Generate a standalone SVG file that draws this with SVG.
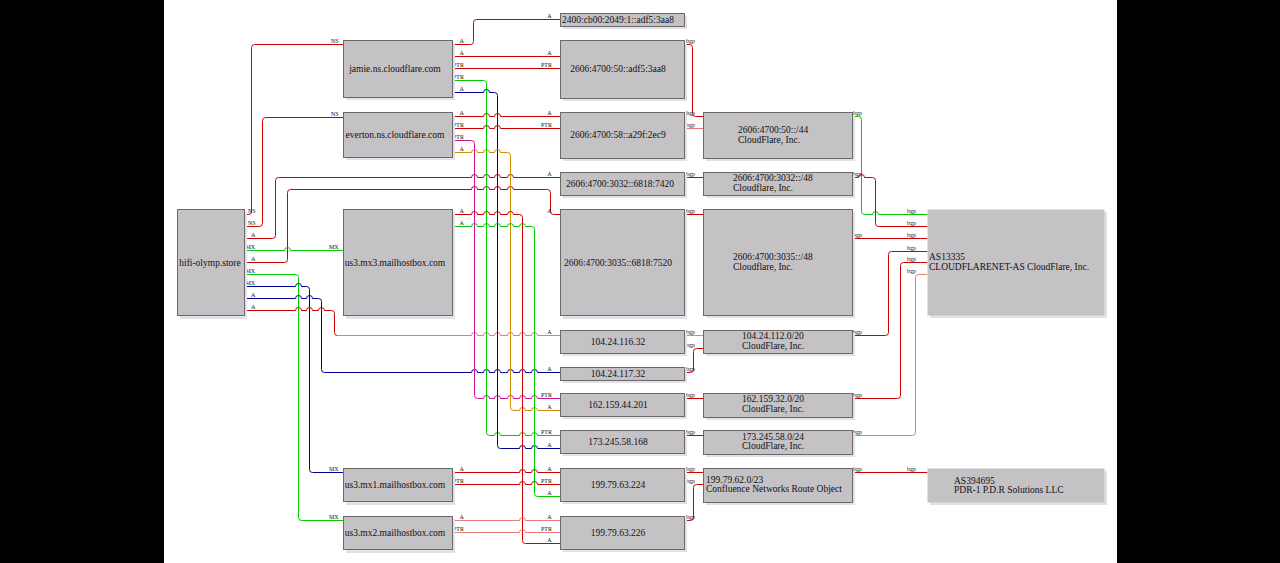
<svg xmlns="http://www.w3.org/2000/svg" width="1280" height="563" viewBox="0 0 1280 563">
<style>
.sh{fill:#e3e0e6}
.box{fill:#c4c2c5;stroke:#6a6a6a;stroke-width:1}
.t{font-family:'Liberation Serif','DejaVu Serif',serif;font-size:9.5px;fill:#111}
.l{font-family:'Liberation Serif','DejaVu Serif',serif;font-size:6px;fill:#111}
.e{fill:none;stroke-width:1}
.r{stroke:#cc0000}.lr{stroke:#e87a7a}.g{stroke:#00c800}.b{stroke:#000099}.m{stroke:#cc1199}.o{stroke:#d48c00}
</style>
<rect width="1280" height="563" fill="#000"/>
<rect x="164" y="0" width="953" height="563" fill="#fff"/>

<g id="connectors" transform="translate(0.5,0.5)">
<path class="e r" d="M244,214 H248 Q251,214 251,211 V47 Q251,44 254,44 H343"/>
<path class="e r" d="M244,226 H259 Q262,226 262,223 V120 Q262,117 265,117 H343"/>
<path class="e r" d="M244,238 H272 Q275,238 275,235 V180 Q275,177 278,177 H471 a3,3 0 0 1 6,0 H483 a3,3 0 0 1 6,0 H494 a3,3 0 0 1 6,0 H507 a3,3 0 0 1 6,0 H560"/>
<path class="e r" d="M244,262 H284 Q287,262 287,259 V192 Q287,189 290,189 H471 a3,3 0 0 1 6,0 H483 a3,3 0 0 1 6,0 H494 a3,3 0 0 1 6,0 H507 a3,3 0 0 1 6,0 H547 Q550,189 550,192 V211 Q550,214 553,214 H560"/>
<path class="e g" d="M244,250 H284 a3,3 0 0 1 6,0 H343"/>
<path class="e g" d="M244,274 H295 Q298,274 298,277 V517 Q298,520 301,520 H343"/>
<path class="e b" d="M244,286 H295 a3,3 0 0 1 6,0 H306 Q309,286 309,289 V469 Q309,472 312,472 H343"/>
<path class="e b" d="M244,298 H295 a3,3 0 0 1 6,0 H306 a3,3 0 0 1 6,0 H318 Q321,298 321,301 V369 Q321,372 324,372 H471 a3,3 0 0 1 6,0 H483 a3,3 0 0 1 6,0 H494 a3,3 0 0 1 6,0 H507 a3,3 0 0 1 6,0 H519 a3,3 0 0 1 6,0 H531 a3,3 0 0 1 6,0 H560"/>
<path class="e r" d="M244,310 H295 a3,3 0 0 1 6,0 H306 a3,3 0 0 1 6,0 H318 a3,3 0 0 1 6,0 H331 Q334,310 334,313 V332 Q334,335 337,335"/>
<path class="e lr" d="M337,335 H471 a3,3 0 0 1 6,0 H483 a3,3 0 0 1 6,0 H494 a3,3 0 0 1 6,0 H507 a3,3 0 0 1 6,0 H519 a3,3 0 0 1 6,0 H531 a3,3 0 0 1 6,0 H560"/>
<path class="e r" d="M452,44 H470 Q473,44 473,41 V22 Q473,19 476,19 H560"/>
<path class="e r" d="M452,56 H560"/>
<path class="e r" d="M452,68 H560"/>
<path class="e g" d="M452,80 H483 Q486,80 486,83 V432 Q486,435 489,435 H494 a3,3 0 0 1 6,0 H519 a3,3 0 0 1 6,0 H531 a3,3 0 0 1 6,0 H560"/>
<path class="e b" d="M452,92 H483 a3,3 0 0 1 6,0 H494 Q497,92 497,95 V445 Q497,448 500,448 H519 a3,3 0 0 1 6,0 H531 a3,3 0 0 1 6,0 H560"/>
<path class="e r" d="M452,116 H483 a3,3 0 0 1 6,0 H494 a3,3 0 0 1 6,0 H560"/>
<path class="e r" d="M452,128 H483 a3,3 0 0 1 6,0 H494 a3,3 0 0 1 6,0 H560"/>
<path class="e m" d="M452,140 H471 Q474,140 474,143 V395 Q474,398 477,398 H483 a3,3 0 0 1 6,0 H494 a3,3 0 0 1 6,0 H507 a3,3 0 0 1 6,0 H519 a3,3 0 0 1 6,0 H531 a3,3 0 0 1 6,0 H560"/>
<path class="e o" d="M452,152 H471 a3,3 0 0 1 6,0 H483 a3,3 0 0 1 6,0 H494 a3,3 0 0 1 6,0 H507 Q510,152 510,155 V407 Q510,410 513,410 H519 a3,3 0 0 1 6,0 H531 a3,3 0 0 1 6,0 H560"/>
<path class="e r" d="M452,214 H471 a3,3 0 0 1 6,0 H483 a3,3 0 0 1 6,0 H494 a3,3 0 0 1 6,0 H507 a3,3 0 0 1 6,0 H519 Q522,214 522,217 V540 Q522,543 525,543 H560"/>
<path class="e g" d="M452,226 H471 a3,3 0 0 1 6,0 H483 a3,3 0 0 1 6,0 H494 a3,3 0 0 1 6,0 H507 a3,3 0 0 1 6,0 H519 a3,3 0 0 1 6,0 H531 Q534,226 534,229 V493 Q534,496 537,496 H560"/>
<path class="e r" d="M452,472 H519 a3,3 0 0 1 6,0 H531 a3,3 0 0 1 6,0 H560"/>
<path class="e r" d="M452,484 H519 a3,3 0 0 1 6,0 H531 a3,3 0 0 1 6,0 H560"/>
<path class="e lr" d="M452,520 H519 a3,3 0 0 1 6,0 H560"/>
<path class="e lr" d="M452,532 H519 a3,3 0 0 1 6,0 H560"/>
<path class="e r" d="M684,44 H689 Q692,44 692,47 V113 Q692,116 695,116 H703"/>
<path class="e lr" d="M684,128 H703"/>
<path class="e r" d="M684,177 H703"/>
<path class="e r" d="M684,214 H703"/>
<path class="e lr" d="M684,335 H703"/>
<path class="e r" d="M684,372 H690 Q693,372 693,369 V351 Q693,348 696,348 H703"/>
<path class="e r" d="M684,398 H703"/>
<path class="e r" d="M684,435 H703"/>
<path class="e r" d="M684,472 H703"/>
<path class="e r" d="M684,520 H690 Q693,520 693,517 V487 Q693,484 696,484 H703"/>
<path class="e g" d="M852,116 H858 Q861,116 861,119 V211 Q861,214 864,214 H872 a3,3 0 0 1 6,0 H927"/>
<path class="e r" d="M852,177 H858 a3,3 0 0 1 6,0 H872 Q875,177 875,180 V223 Q875,226 878,226 H927"/>
<path class="e r" d="M852,238 H927"/>
<path class="e r" d="M852,335 H885 Q888,335 888,332 V254 Q888,251 891,251 H927"/>
<path class="e r" d="M852,398 H897 Q900,398 900,395 V265 Q900,262 903,262 H927"/>
<path class="e lr" d="M852,435 H912 Q915,435 915,432 V277 Q915,274 918,274 H927"/>
<path class="e r" d="M852,472 H927"/>
</g>

<g id="edge-labels" font-family="'Liberation Serif', serif">
<text class="l" x="248" y="212.5">NS</text>
<text class="l" x="248" y="224.5">NS</text>
<text class="l" x="251" y="236.5">A</text>
<text class="l" x="245.5" y="248.5">MX</text>
<text class="l" x="251" y="260.5">A</text>
<text class="l" x="245.5" y="272.5">MX</text>
<text class="l" x="245.5" y="284.5">MX</text>
<text class="l" x="251" y="296.5">A</text>
<text class="l" x="251" y="308.5">A</text>
<text class="l" x="331" y="42.5">NS</text>
<text class="l" x="331" y="115.5">NS</text>
<text class="l" x="329" y="248.5">MX</text>
<text class="l" x="329" y="470.5">MX</text>
<text class="l" x="329" y="518.5">MX</text>
<text class="l" x="459.5" y="42.5">A</text>
<text class="l" x="459.5" y="54.5">A</text>
<text class="l" x="453" y="66.5">PTR</text>
<text class="l" x="453" y="78.5">PTR</text>
<text class="l" x="459.5" y="90.5">A</text>
<text class="l" x="459.5" y="114.5">A</text>
<text class="l" x="453" y="126.5">PTR</text>
<text class="l" x="453" y="138.5">PTR</text>
<text class="l" x="459.5" y="150.5">A</text>
<text class="l" x="459.5" y="212.5">A</text>
<text class="l" x="459.5" y="224.5">A</text>
<text class="l" x="459.5" y="470.5">A</text>
<text class="l" x="453" y="482.5">PTR</text>
<text class="l" x="459.5" y="518.5">A</text>
<text class="l" x="453" y="530.5">PTR</text>
<text class="l" x="547.3" y="17.5">A</text>
<text class="l" x="547.3" y="54.5">A</text>
<text class="l" x="541" y="66.5">PTR</text>
<text class="l" x="547.3" y="114.5">A</text>
<text class="l" x="541" y="126.5">PTR</text>
<text class="l" x="547.3" y="175.5">A</text>
<text class="l" x="547.3" y="212.5">A</text>
<text class="l" x="547.3" y="333.5">A</text>
<text class="l" x="547.3" y="370.5">A</text>
<text class="l" x="541" y="396.5">PTR</text>
<text class="l" x="547.3" y="408.5">A</text>
<text class="l" x="541" y="433.5">PTR</text>
<text class="l" x="547.3" y="446.5">A</text>
<text class="l" x="547.3" y="470.5">A</text>
<text class="l" x="541" y="482.5">PTR</text>
<text class="l" x="547.3" y="494.5">A</text>
<text class="l" x="547.3" y="518.5">A</text>
<text class="l" x="541" y="530.5">PTR</text>
<text class="l" x="547.3" y="541.5">A</text>
<text class="l" x="686" y="42.5">bgp</text>
<text class="l" x="686" y="114.5">bgp</text>
<text class="l" x="686" y="126.5">bgp</text>
<text class="l" x="686" y="175.5">bgp</text>
<text class="l" x="686" y="212.5">bgp</text>
<text class="l" x="686" y="333.5">bgp</text>
<text class="l" x="686" y="346.5">bgp</text>
<text class="l" x="686" y="370.5">bgp</text>
<text class="l" x="686" y="396.5">bgp</text>
<text class="l" x="686" y="433.5">bgp</text>
<text class="l" x="686" y="470.5">bgp</text>
<text class="l" x="686" y="482.5">bgp</text>
<text class="l" x="686" y="518.5">bgp</text>
<text class="l" x="853" y="114.5">bgp</text>
<text class="l" x="853" y="175.5">bgp</text>
<text class="l" x="853" y="236.5">bgp</text>
<text class="l" x="853" y="333.5">bgp</text>
<text class="l" x="853" y="396.5">bgp</text>
<text class="l" x="853" y="433.5">bgp</text>
<text class="l" x="853" y="470.5">bgp</text>
<text class="l" x="907" y="212.5">bgp</text>
<text class="l" x="907" y="224.5">bgp</text>
<text class="l" x="907" y="236.5">bgp</text>
<text class="l" x="907" y="249.5">bgp</text>
<text class="l" x="907" y="260.5">bgp</text>
<text class="l" x="907" y="272.5">bgp</text>
<text class="l" x="907" y="470.5">bgp</text>
</g>

<g id="nodes" font-family="'Liberation Serif', serif">
<g id="n-hifi"><rect class="sh" x="180" y="212" width="67" height="107"/><rect class="box" x="177.5" y="209.5" width="67" height="106"/><text class="t" x="210" y="265.5" text-anchor="middle">hifi-olymp.store</text></g>
<g id="n-jamie"><rect class="sh" x="346" y="43" width="109" height="57"/><rect class="box" x="343.5" y="40.5" width="109" height="57"/><text class="t" x="395" y="71.5" text-anchor="middle">jamie.ns.cloudflare.com</text></g>
<g id="n-everton"><rect class="sh" x="346" y="115" width="109" height="45"/><rect class="box" x="343.5" y="112.5" width="109" height="45"/><text class="t" x="395" y="138" text-anchor="middle">everton.ns.cloudflare.com</text></g>
<g id="n-mx3"><rect class="sh" x="346" y="212" width="109" height="107"/><rect class="box" x="343.5" y="209.5" width="109" height="106"/><text class="t" x="395" y="266" text-anchor="middle">us3.mx3.mailhostbox.com</text></g>
<g id="n-mx1"><rect class="sh" x="346" y="471" width="109" height="34"/><rect class="box" x="343.5" y="468.5" width="109" height="33"/><text class="t" x="395" y="488" text-anchor="middle">us3.mx1.mailhostbox.com</text></g>
<g id="n-mx2"><rect class="sh" x="346" y="519" width="109" height="34"/><rect class="box" x="343.5" y="516.5" width="109" height="33"/><text class="t" x="395" y="536" text-anchor="middle">us3.mx2.mailhostbox.com</text></g>

<g id="n-ip-2400"><rect class="sh" x="563" y="16" width="124" height="13"/><rect class="box" x="560.5" y="13.5" width="124" height="13"/><text class="t" x="618" y="22.5" text-anchor="middle">2400:cb00:2049:1::adf5:3aa8</text></g>
<g id="n-ip-50"><rect class="sh" x="563" y="43" width="124" height="58"/><rect class="box" x="560.5" y="40.5" width="124" height="58"/><text class="t" x="618" y="71.5" text-anchor="middle">2606:4700:50::adf5:3aa8</text></g>
<g id="n-ip-58"><rect class="sh" x="563" y="115" width="124" height="46"/><rect class="box" x="560.5" y="112.5" width="124" height="46"/><text class="t" x="618" y="138" text-anchor="middle">2606:4700:58::a29f:2ec9</text></g>
<g id="n-ip-3032"><rect class="sh" x="563" y="175" width="124" height="23"/><rect class="box" x="560.5" y="172.5" width="124" height="23"/><text class="t" x="620" y="186.5" text-anchor="middle">2606:4700:3032::6818:7420</text></g>
<g id="n-ip-3035"><rect class="sh" x="563" y="212" width="124" height="107"/><rect class="box" x="560.5" y="209.5" width="124" height="106"/><text class="t" x="618" y="265.5" text-anchor="middle">2606:4700:3035::6818:7520</text></g>
<g id="n-ip-116"><rect class="sh" x="563" y="333" width="124" height="23"/><rect class="box" x="560.5" y="330.5" width="124" height="23"/><text class="t" x="618" y="345" text-anchor="middle">104.24.116.32</text></g>
<g id="n-ip-117"><rect class="sh" x="563" y="370" width="124" height="13"/><rect class="box" x="560.5" y="367.5" width="124" height="13"/><text class="t" x="618" y="376.5" text-anchor="middle">104.24.117.32</text></g>
<g id="n-ip-44"><rect class="sh" x="563" y="396" width="124" height="23"/><rect class="box" x="560.5" y="393.5" width="124" height="23"/><text class="t" x="618" y="407.5" text-anchor="middle">162.159.44.201</text></g>
<g id="n-ip-58168"><rect class="sh" x="563" y="433" width="124" height="23"/><rect class="box" x="560.5" y="430.5" width="124" height="23"/><text class="t" x="618" y="445" text-anchor="middle">173.245.58.168</text></g>
<g id="n-ip-224"><rect class="sh" x="563" y="471" width="124" height="33"/><rect class="box" x="560.5" y="468.5" width="124" height="33"/><text class="t" x="618" y="488" text-anchor="middle">199.79.63.224</text></g>
<g id="n-ip-226"><rect class="sh" x="563" y="519" width="124" height="33"/><rect class="box" x="560.5" y="516.5" width="124" height="33"/><text class="t" x="618" y="536" text-anchor="middle">199.79.63.226</text></g>

<g id="n-pfx-50"><rect class="sh" x="706" y="115" width="149" height="46"/><rect class="box" x="703.5" y="112.5" width="149" height="46"/><text class="t" x="738" y="132.5">2606:4700:50::/44</text><text class="t" x="738" y="142.5">CloudFlare, Inc.</text></g>
<g id="n-pfx-3032"><rect class="sh" x="706" y="175" width="149" height="23"/><rect class="box" x="703.5" y="172.5" width="149" height="23"/><text class="t" x="733" y="181">2606:4700:3032::/48</text><text class="t" x="733" y="191">Cloudflare, Inc.</text></g>
<g id="n-pfx-3035"><rect class="sh" x="706" y="212" width="149" height="106"/><rect class="box" x="703.5" y="209.5" width="149" height="106"/><text class="t" x="733" y="259.5">2606:4700:3035::/48</text><text class="t" x="733" y="269.5">Cloudflare, Inc.</text></g>
<g id="n-pfx-104"><rect class="sh" x="706" y="333" width="149" height="23"/><rect class="box" x="703.5" y="330.5" width="149" height="23"/><text class="t" x="742" y="338.5">104.24.112.0/20</text><text class="t" x="742" y="348.5">CloudFlare, Inc.</text></g>
<g id="n-pfx-162"><rect class="sh" x="706" y="396" width="149" height="24"/><rect class="box" x="703.5" y="393.5" width="149" height="24"/><text class="t" x="742" y="402">162.159.32.0/20</text><text class="t" x="742" y="412">CloudFlare, Inc.</text></g>
<g id="n-pfx-173"><rect class="sh" x="706" y="433" width="149" height="24"/><rect class="box" x="703.5" y="430.5" width="149" height="24"/><text class="t" x="742" y="439.5">173.245.58.0/24</text><text class="t" x="742" y="449">CloudFlare, Inc.</text></g>
<g id="n-pfx-199"><rect class="sh" x="706" y="471" width="149" height="34"/><rect class="box" x="703.5" y="468.5" width="149" height="34"/><text class="t" x="706" y="482.5">199.79.62.0/23</text><text class="t" x="706" y="492">Confluence Networks Route Object</text></g>

<g id="n-as13335"><rect class="sh" x="930" y="212" width="177" height="106"/><rect class="box" x="927.5" y="209.5" width="177" height="106" style="stroke:none"/><text class="t" x="929" y="259.5">AS13335</text><text class="t" x="929" y="269.5">CLOUDFLARENET-AS CloudFlare, Inc.</text></g>
<g id="n-as394695"><rect class="sh" x="930" y="471" width="177" height="34"/><rect class="box" x="927.5" y="468.5" width="177" height="34" style="stroke:none"/><text class="t" x="954" y="483.5">AS394695</text><text class="t" x="954" y="493">PDR-1 P.D.R Solutions LLC</text></g>
</g>
</svg>
